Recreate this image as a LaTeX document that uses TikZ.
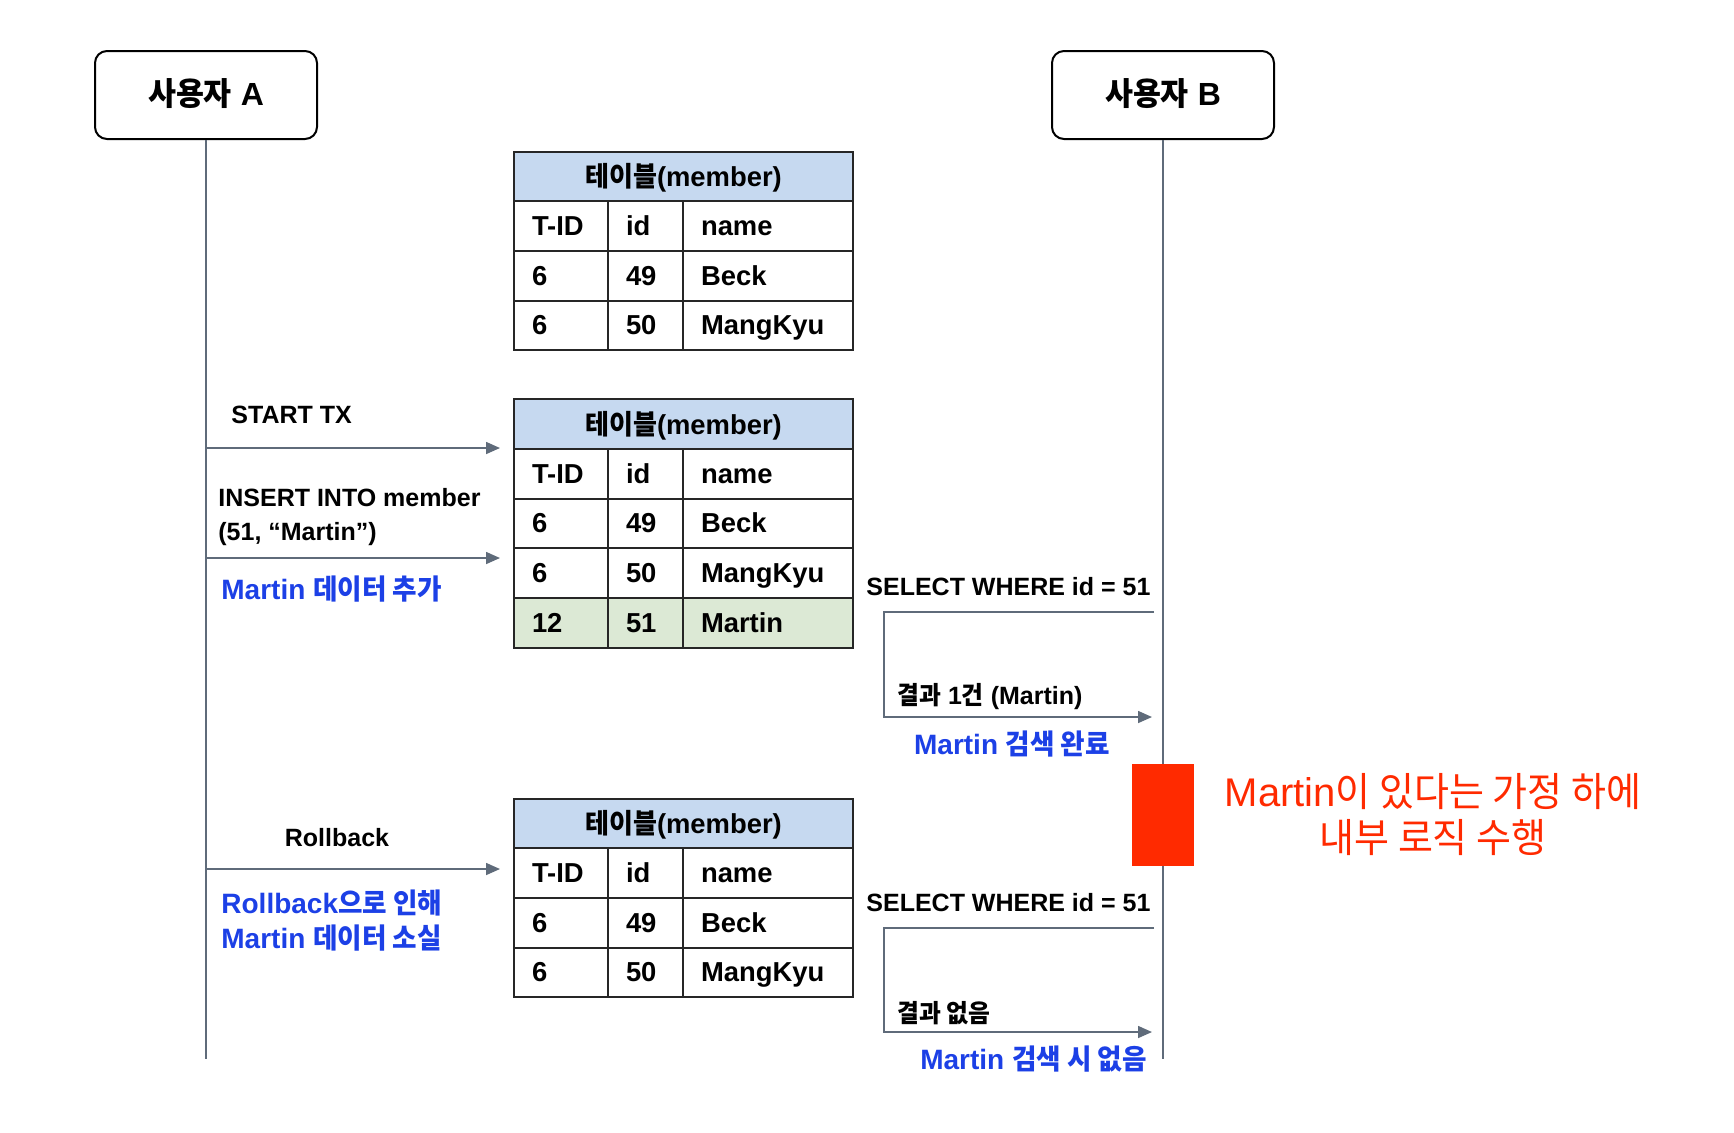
\documentclass[tikz,border=0pt]{standalone}
\usepackage{fontspec}
\setmainfont{Liberation Sans}
\newfontfamily\kr[FakeStretch=0.95]{Noto Sans CJK KR}
\usetikzlibrary{arrows.meta}

\definecolor{headblue}{HTML}{C6D9F0}
\definecolor{rowgreen}{HTML}{DCE9D5}
\definecolor{lifegray}{HTML}{5F6B7A}
\definecolor{noteblue}{HTML}{1C40E6}
\definecolor{alertred}{HTML}{FF2A00}

\newcommand{\cellfont}{\fontsize{13.7}{16}\selectfont\bfseries}
\newcommand{\msgfont}{\fontsize{12.5}{17}\selectfont\bfseries}
\newcommand{\bluefont}{\fontsize{14}{17.5}\selectfont\bfseries}

\tikzset{
 actor/.style={draw, line width=1pt, rounded corners=6pt, minimum width=111pt,
               minimum height=44pt, text height=12pt, text depth=2pt,
               font=\fontsize{16}{19}\selectfont\bfseries},
 life/.style={draw=lifegray, line width=0.7pt},
 msg/.style={draw=lifegray, line width=0.8pt, -{Triangle[length=7pt,width=6pt]}},
 head/.style={draw=black!85, line width=1pt, fill=headblue, outer sep=0pt,
              anchor=north west, minimum width=169.5pt, minimum height=24.85pt,
              text height=12.5pt, text depth=2pt, font=\cellfont},
 cell/.style={draw=black!85, line width=1pt, outer sep=0pt, anchor=north west,
              minimum height=24.85pt, inner xsep=9pt, align=left,
              text height=11.5pt, text depth=2pt, font=\cellfont},
 tid/.style={cell, text width=29pt},
 idc/.style={cell, text width=19.5pt},
 namec/.style={cell, text width=67pt},
 new/.style={fill=rowgreen},
 msgtext/.style={inner sep=0pt, font=\msgfont},
 bluetext/.style={inner sep=0pt, text=noteblue, font=\bluefont},
}

\begin{document}
\begin{tikzpicture}[x=0.5pt, y=-0.5pt]
 \useasboundingbox (0,0) rectangle (1734,1132);

 % users and lifelines
 \node[actor] (userA) at (206,95) {{\kr 사용자} A};
 \node[actor] (userB) at (1163,95) {{\kr 사용자} B};
 \coordinate (endA) at (206,1059);
 \coordinate (endB) at (1163,1059);
 \draw[life] (userA) -- (endA);
 \draw[life] (userB) -- (endB);

 % table before the transaction
 \node[head] (t1h) at (514,151.5) {{\kr 테이블}(member)};
 \node[tid] (t1a) at (t1h.south west) {T-ID};
 \node[idc] (t1b) at (t1a.north east) {id};
 \node[namec] (t1c) at (t1b.north east) {name};
 \node[tid] (t1d) at (t1a.south west) {6};
 \node[idc] (t1e) at (t1d.north east) {49};
 \node[namec] (t1f) at (t1e.north east) {Beck};
 \node[tid] (t1g) at (t1d.south west) {6};
 \node[idc] (t1i) at (t1g.north east) {50};
 \node[namec] (t1j) at (t1i.north east) {MangKyu};

 % table after the insert
 \node[head] (t2h) at (514,399.2) {{\kr 테이블}(member)};
 \node[tid] (t2a) at (t2h.south west) {T-ID};
 \node[idc] (t2b) at (t2a.north east) {id};
 \node[namec] (t2c) at (t2b.north east) {name};
 \node[tid] (t2d) at (t2a.south west) {6};
 \node[idc] (t2e) at (t2d.north east) {49};
 \node[namec] (t2f) at (t2e.north east) {Beck};
 \node[tid] (t2g) at (t2d.south west) {6};
 \node[idc] (t2i) at (t2g.north east) {50};
 \node[namec] (t2j) at (t2i.north east) {MangKyu};
 \node[tid, new] (t2k) at (t2g.south west) {12};
 \node[idc, new] (t2l) at (t2k.north east) {51};
 \node[namec, new] (t2m) at (t2l.north east) {Martin};

 % table after the rollback
 \node[head] (t3h) at (514,798.5) {{\kr 테이블}(member)};
 \node[tid] (t3a) at (t3h.south west) {T-ID};
 \node[idc] (t3b) at (t3a.north east) {id};
 \node[namec] (t3c) at (t3b.north east) {name};
 \node[tid] (t3d) at (t3a.south west) {6};
 \node[idc] (t3e) at (t3d.north east) {49};
 \node[namec] (t3f) at (t3e.north east) {Beck};
 \node[tid] (t3g) at (t3d.south west) {6};
 \node[idc] (t3i) at (t3g.north east) {50};
 \node[namec] (t3j) at (t3i.north east) {MangKyu};

 % user A messages
 \coordinate (tx) at (206,448);
 \coordinate (ins) at (206,558);
 \coordinate (rb) at (206,869);
 \draw[msg, shorten >=7pt] (tx) -- (t2h.west |- tx);
 \draw[msg, shorten >=7pt] (ins) -- (t2h.west |- ins);
 \draw[msg, shorten >=7pt] (rb) -- (t3h.west |- rb);
 \node[msgtext, anchor=west] (lbtx) at (231,415) {START TX};
 \node[msgtext, anchor=west, align=left] (lbins) at (218,517)
   {INSERT INTO member\\(51, “Martin”)};
 \node[bluetext, anchor=west] (lbadd) at (221,589) {Martin {\kr 데이터 추가}};
 \node[msgtext] (lbrb) at (337,838) {Rollback};
 \node[bluetext, anchor=west, align=left] (lblost) at (221,921)
   {Rollback{\kr 으로 인해}\\Martin {\kr 데이터 소실}};

 % user B queries
 \coordinate (q1s) at (1154,612);
 \coordinate (q1e) at (1152,717);
 \coordinate (q2s) at (1154,928);
 \coordinate (q2e) at (1152,1032);
 \draw[msg] (q1s) -- (884,612) |- (q1e);
 \draw[msg] (q2s) -- (884,928) |- (q2e);
 \node[msgtext, anchor=west] (lbsel1) at (866,587) {SELECT WHERE id = 51};
 \node[msgtext, anchor=west] (lbres1) at (897,697) {{\kr 결과} 1{\kr 건} (Martin)};
 \node[bluetext] (lbfound) at (1012,744) {Martin {\kr 검색 완료}};
 \node[msgtext, anchor=west] (lbsel2) at (866,903) {SELECT WHERE id = 51};
 \node[msgtext, anchor=west] (lbres2) at (897,1013) {{\kr 결과 없음}};
 \node[bluetext, anchor=east] (lbnone) at (1147,1059) {Martin {\kr 검색 시 없음}};

 % activation of B
 \node[fill=alertred, inner sep=0pt, anchor=north west, minimum width=31pt,
       minimum height=51pt] (busy) at (1132,764) {};
 \node[text=alertred, align=center, font=\fontsize{20}{23}\selectfont] (memo)
   at (1433,814) {Martin{\kr 이 있다는 가정 하에}\\{\kr 내부 로직 수행}};
\end{tikzpicture}
\end{document}
